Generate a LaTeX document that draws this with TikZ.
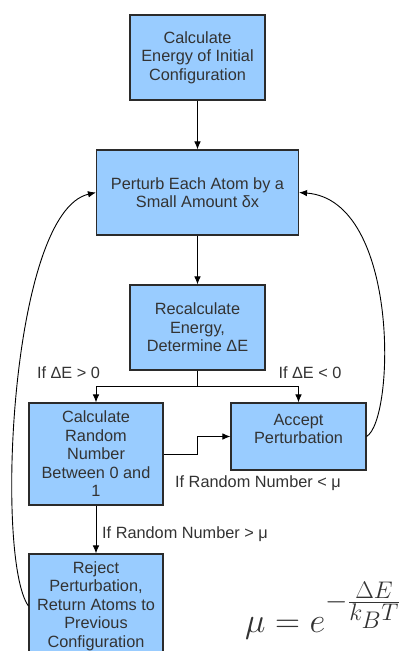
\documentclass[tikz,border=0pt]{standalone}
\usepackage{fontspec}
\setmainfont{Liberation Sans}
\usetikzlibrary{arrows.meta}
\definecolor{boxfill}{HTML}{99CCFF}
\definecolor{boxline}{HTML}{2B2B2B}
\definecolor{txt}{HTML}{333333}
\tikzset{
  flowbox/.style={draw=boxline, fill=boxfill, line width=1.1pt, inner sep=0pt,
    align=center, text=txt, font=\fontsize{16.3}{18.5}\selectfont},
  arr/.style={draw=black, line width=0.9pt, -{Latex[length=8pt,width=6.5pt]}},
  plainline/.style={draw=black, line width=0.9pt},
  cond/.style={text=txt, inner sep=0pt, font=\fontsize{16.3}{18.5}\selectfont}
}
\begin{document}
\begin{tikzpicture}[x=1pt, y=-1pt]
  \useasboundingbox (0,0) rectangle (404,651);
  \fill[white] (0,0) rectangle (404,651);
  \begin{scope}
  \clip (0,0) rectangle (404,651);

  % process boxes
  \node[flowbox, minimum width=135pt, minimum height=85pt] (init) at (197.5,57.5)
    {Calculate\\Energy of Initial\\Configuration};
  \node[flowbox, minimum width=202pt, minimum height=85pt] (perturb) at (197.5,192.5)
    {Perturb Each Atom by a\\Small Amount δx};
  \node[flowbox, minimum width=135pt, minimum height=85pt] (recalc) at (197.5,327.5)
    {Recalculate\\Energy,\\Determine ΔE};
  \node[flowbox, minimum width=134pt, minimum height=102pt] (randnum) at (96,454)
    {Calculate\\Random\\Number\\Between 0 and\\1};
  % text sits in the upper part of this box
  \node[flowbox, minimum width=135pt, minimum height=67pt] (accept) at (298.5,436.5)
    {\raisebox{1.5pt}[0pt][0pt]{\begin{tabular}{@{}c@{}}Accept\\Perturbation\end{tabular}}};
  \node[flowbox, minimum width=134pt, minimum height=104pt] (reject) at (96,606)
    {Reject\\Perturbation,\\Return Atoms to\\Previous\\Configuration};

  % straight connectors
  \draw[arr] (init) -- (perturb);
  \draw[arr] (perturb) -- (recalc);
  \coordinate (split) at (197.5,386);
  \draw[plainline] (recalc.south) -- (split);
  \draw[arr] (split) -| (randnum.north);
  \draw[arr] (split) -| (accept.north);
  \draw[arr] (randnum.east) -- ++(34,0) |- (accept.west);
  \draw[arr] (randnum) -- (reject);

  % loops back to the perturbation step
  \draw[arr] (reject.west) .. controls (-5,560) and (10,212) .. (perturb.west);
  \draw[arr] (accept.east) .. controls (395,420) and (400,200) .. (perturb.east);

  % branch conditions
  \node[cond] (cpos) at (68.5,373) {If ΔE > 0};
  \node[cond] (cneg) at (310,373) {If ΔE < 0};
  \node[cond] (clow) at (258,483) {If Random Number < μ};
  \node[cond, anchor=west] (chigh) at (102,534) {If Random Number > μ};

  % acceptance probability
  \node[anchor=base west, inner sep=0pt, text=txt] (formula) at (245,632)
    {\scalebox{1.39}{\Huge $\mu = e^{-\frac{\Delta E}{k_B T}}$}};
  \end{scope}
\end{tikzpicture}
\end{document}
